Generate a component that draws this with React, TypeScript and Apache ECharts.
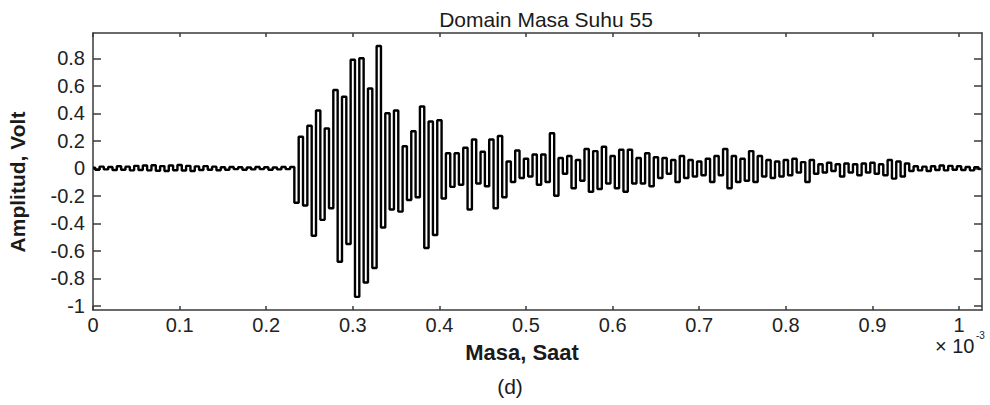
import React, { useEffect, useRef } from "react";
import * as echarts from "echarts";

// Sample spacing of the recorded signal (x axis unit: s × 10^-3)
const sampleStep = 0.005;

// Amplitude (Volt) of each sample, in time order
const amplitude: number[] = [
  // 0 – 0.045
  0.005, -0.01, 0.012, -0.008, 0.01, -0.012, 0.015, -0.01, 0.012, -0.015,
  // 0.05 – 0.095
  0.018, -0.012, 0.02, -0.015, 0.022, -0.018, 0.016, -0.02, 0.02, -0.014,
  // 0.10 – 0.145
  0.024, -0.016, 0.018, -0.02, 0.014, -0.012, 0.016, -0.01, 0.012, -0.014,
  // 0.15 – 0.195
  0.008, -0.01, 0.01, -0.006, 0.008, -0.01, 0.006, -0.008, 0.01, -0.006,
  // 0.20 – 0.23
  0.008, -0.01, 0.006, -0.008, 0.01, -0.006, 0.01,
  // 0.235 – 0.25
  -0.25, 0.23, -0.27, 0.31,
  // 0.255 – 0.345
  -0.49, 0.42, -0.375, 0.29, -0.29, 0.57, -0.68, 0.52, -0.55, 0.79,
  -0.935, 0.8, -0.83, 0.58, -0.725, 0.89, -0.43, 0.4, -0.3,
  // 0.35 – 0.445
  0.42, -0.315, 0.16, -0.23, 0.27, -0.21, 0.45, -0.58, 0.34, -0.485,
  0.35, -0.22, 0.11, -0.135, 0.11, -0.12, 0.15, -0.3, 0.21, -0.11,
  // 0.45 – 0.545
  0.12, -0.13, 0.21, -0.29, 0.235, -0.21, 0.05, -0.1, 0.13, -0.07,
  0.07, -0.06, 0.1, -0.12, 0.1, -0.1, 0.255, -0.2, 0.075, -0.04,
  // 0.55 – 0.645
  0.09, -0.145, 0.06, -0.09, 0.14, -0.17, 0.125, -0.15, 0.157, -0.11,
  0.09, -0.145, 0.135, -0.17, 0.135, -0.11, 0.075, -0.11, 0.11, -0.13,
  // 0.65 – 0.745
  0.08, -0.07, 0.075, -0.04, 0.06, -0.1, 0.09, -0.07, 0.06, -0.06,
  0.05, -0.05, 0.07, -0.1, 0.09, -0.05, 0.14, -0.145, 0.09, -0.1,
  // 0.75 – 0.845
  0.07, -0.09, 0.125, -0.1, 0.09, -0.06, 0.06, -0.07, 0.05, -0.06,
  0.06, -0.05, 0.07, -0.03, 0.045, -0.1, 0.06, -0.04, 0.03, -0.03,
  // 0.85 – 0.945
  0.04, -0.02, 0.03, -0.06, 0.035, -0.03, 0.03, -0.05, 0.035, -0.03,
  0.04, -0.04, 0.03, -0.05, 0.06, -0.075, 0.05, -0.06, 0.035, -0.02,
  // 0.95 – 1.025
  0.015, -0.015, 0.012, -0.02, 0.015, -0.012, 0.02, -0.015, 0.018, -0.01,
  0.015, -0.012, 0.01, -0.015, 0.008, -0.005,
];

const xTickValues = [0, 0.1, 0.2, 0.3, 0.4, 0.5, 0.6, 0.7, 0.8, 0.9, 1];
const yTickValues = [-1, -0.8, -0.6, -0.4, -0.2, 0, 0.2, 0.4, 0.6, 0.8];

const titleText = "Domain Masa Suhu 55";
const xAxisName = "Masa, Saat";
const yAxisName = "Amplitud, Volt";
const panelLabel = "(d)";
const xScaleText = "× 10";
const xScaleExponent = "-3";

const FONT = "'Liberation Sans', Arial, Helvetica, sans-serif";
const AXIS_COLOR = "#3a3a3a";

export default function App() {
  const ref = useRef<HTMLDivElement>(null);

  useEffect(() => {
    document.body.style.margin = "0";
    if (!ref.current) return;
    const chart = echarts.init(ref.current, undefined, { renderer: "svg" });

    const points = amplitude.map((v, i) => [i * sampleStep, v]);
    const axisLine = {
      show: true,
      onZero: false,
      lineStyle: { color: AXIS_COLOR, width: 1.5 },
    };
    const tickStyle = { color: AXIS_COLOR, width: 1.5 };

    chart.setOption({
      animation: false,
      backgroundColor: "#ffffff",
      textStyle: { fontFamily: FONT },
      grid: { left: 93, top: 33, width: 889, height: 277, containLabel: false },
      xAxis: [
        {
          type: "value",
          position: "bottom",
          min: 0,
          max: 1.0265,
          axisLine,
          splitLine: { show: false },
          axisTick: {
            show: true,
            inside: true,
            length: 4,
            customValues: xTickValues,
            lineStyle: tickStyle,
          },
          axisLabel: {
            show: true,
            customValues: xTickValues,
            margin: 5,
            fontSize: 20,
            color: "#222",
            fontFamily: FONT,
          },
        },
        {
          type: "value",
          position: "top",
          min: 0,
          max: 1.0265,
          axisLine,
          splitLine: { show: false },
          axisTick: {
            show: true,
            inside: true,
            length: 4,
            customValues: xTickValues,
            lineStyle: tickStyle,
          },
          axisLabel: { show: false },
        },
      ],
      yAxis: [
        {
          type: "value",
          position: "left",
          min: -1.0305,
          max: 0.984,
          axisLine,
          splitLine: { show: false },
          axisTick: {
            show: true,
            inside: true,
            length: 8,
            customValues: yTickValues,
            lineStyle: tickStyle,
          },
          axisLabel: {
            show: true,
            customValues: yTickValues,
            margin: 8,
            fontSize: 20,
            color: "#222",
            fontFamily: FONT,
          },
        },
        {
          type: "value",
          position: "right",
          min: -1.0305,
          max: 0.984,
          axisLine,
          splitLine: { show: false },
          axisTick: {
            show: true,
            inside: true,
            length: 8,
            customValues: yTickValues,
            lineStyle: tickStyle,
          },
          axisLabel: { show: false },
        },
      ],
      series: [
        {
          type: "line",
          data: points,
          xAxisIndex: 0,
          yAxisIndex: 0,
          step: "middle",
          showSymbol: false,
          symbol: "none",
          clip: true,
          lineStyle: { color: "#000000", width: 2.4 },
        },
      ],
      graphic: [
        {
          type: "text",
          x: 546,
          y: 19,
          style: {
            text: titleText,
            fontSize: 21,
            fontFamily: FONT,
            fill: "#1a1a1a",
            align: "center",
            verticalAlign: "middle",
          },
        },
        {
          type: "text",
          x: 17.5,
          y: 182,
          rotation: Math.PI / 2,
          style: {
            text: yAxisName,
            fontSize: 21,
            fontWeight: "bold",
            fontFamily: FONT,
            fill: "#1a1a1a",
            align: "center",
            verticalAlign: "middle",
          },
        },
        {
          type: "text",
          x: 522,
          y: 352,
          style: {
            text: xAxisName,
            fontSize: 22,
            fontWeight: "bold",
            fontFamily: FONT,
            fill: "#1a1a1a",
            align: "center",
            verticalAlign: "middle",
          },
        },
        {
          type: "text",
          x: 935,
          y: 346,
          style: {
            text: xScaleText,
            fontSize: 20,
            fontFamily: FONT,
            fill: "#1a1a1a",
            align: "left",
            verticalAlign: "middle",
          },
        },
        {
          type: "text",
          x: 976,
          y: 335,
          style: {
            text: xScaleExponent,
            fontSize: 10,
            fontFamily: FONT,
            fill: "#1a1a1a",
            align: "left",
            verticalAlign: "middle",
          },
        },
        {
          type: "text",
          x: 510,
          y: 386,
          style: {
            text: panelLabel,
            fontSize: 21,
            fontFamily: FONT,
            fill: "#1a1a1a",
            align: "center",
            verticalAlign: "middle",
          },
        },
      ],
    });

    return () => chart.dispose();
  }, []);

  return <div ref={ref} style={{ width: 990, height: 405 }} />;
}
